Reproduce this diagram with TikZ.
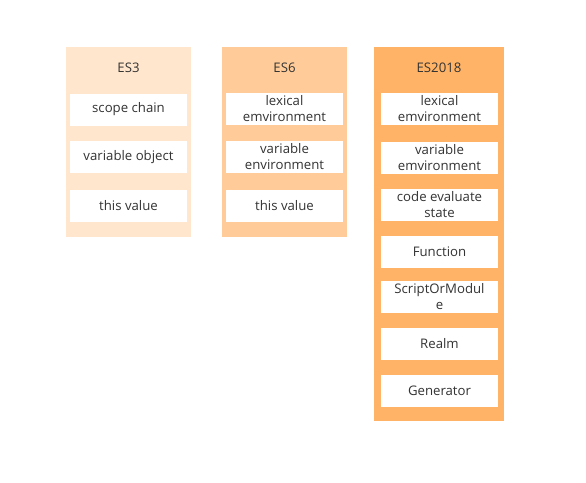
\documentclass[tikz,border=0pt]{standalone}
\usepackage{fontspec}
\setmainfont{Open Sans}
\usepackage{tikz}

\definecolor{esthree}{HTML}{FFE6CC}
\definecolor{essix}{HTML}{FFCC99}
\definecolor{eseight}{HTML}{FFB366}
\definecolor{txtgray}{HTML}{333333}

\tikzset{
    panel/.style={draw=none, anchor=north west, inner sep=0pt},
    title/.style={text=txtgray, font=\fontsize{13.2}{15.7}\selectfont},
    item/.style={fill=white, draw=none, minimum width=117pt, minimum height=32pt,
        inner sep=0pt, align=center, text=txtgray, font=\fontsize{13.2}{15.7}\selectfont},
}

\begin{document}
\begin{tikzpicture}[x=1pt, y=-1pt]
    \useasboundingbox (0, 0) rectangle (586, 482);
    % panels
    \node[panel, fill=esthree, minimum width=125pt, minimum height=190pt] (es3) at (66, 47) {};
    \node[panel, fill=essix, minimum width=125pt, minimum height=190pt] (es6) at (222, 47) {};
    \node[panel, fill=eseight, minimum width=130pt, minimum height=374pt] (es2018) at (374, 47) {};

    \node[title] (es3title) at (128.5, 68) {ES3};
    \node[title] (es6title) at (284.5, 68) {ES6};
    \node[title] (es2018title) at (439, 68) {ES2018};

    % ES3
    \node[item] (scope) at (128.5, 109.5) {scope chain};
    \node[item] (varobj) at (128.5, 157) {variable object};
    \node[item] (thisthree) at (128.5, 205.5) {this value};

    % ES6
    \node[item] (lexsix) at (284.5, 108.7) {lexical\\emvironment};
    \node[item] (varsix) at (284.5, 156.7) {variable\\environment};
    \node[item] (thissix) at (284.5, 205.5) {this value};

    % ES2018
    \node[item] (lexeight) at (439.5, 108.7) {lexical\\emvironment};
    \node[item] (vareight) at (439.5, 157.8) {variable\\emvironment};
    \node[item] (codeeval) at (439.5, 204.8) {code evaluate\\state};
    \node[item] (func) at (439.5, 251.5) {Function};
    \node[item] (scriptmod) at (439.5, 296.8) {ScriptOrModul\\e};
    \node[item] (realm) at (439.5, 343.5) {Realm};
    \node[item] (gen) at (439.5, 390.5) {Generator};
\end{tikzpicture}
\end{document}
